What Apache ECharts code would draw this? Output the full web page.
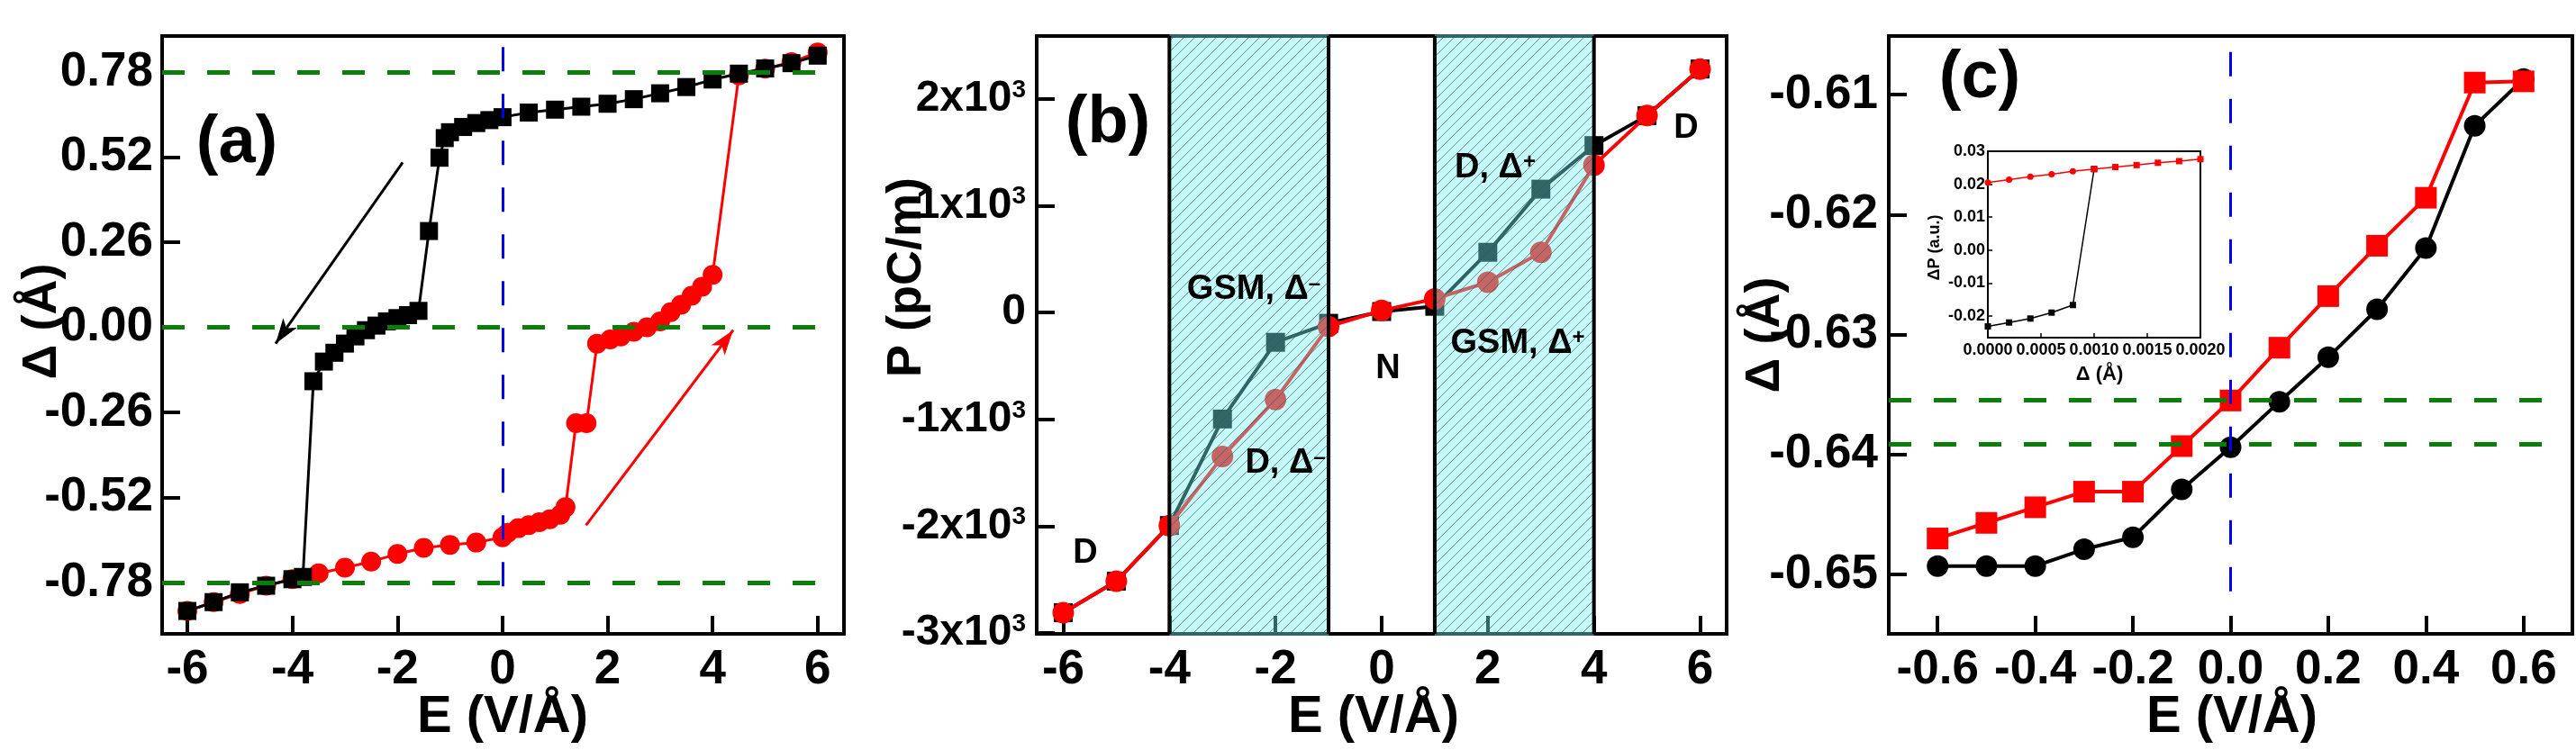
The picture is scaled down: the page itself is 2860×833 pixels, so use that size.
<!DOCTYPE html>
<html>
<head>
<meta charset="utf-8">
<script src="https://cdn.jsdelivr.net/npm/echarts@6/dist/echarts.min.js"></script>
<style>
html, body { margin: 0; padding: 0; background: #fff; }
#main { width: 2860px; height: 833px; }
</style>
</head>
<body>
<div id="main"></div>
<script>
// ---- panel (a): field sweep down (black squares) and up (red circles)
var aDownE = [6, 5.5, 5, 4.5, 4, 3.5, 3, 2.5, 2, 1.5, 1, 0.5, 0, -0.25, -0.5, -0.75, -1, -1.1, -1.2, -1.4, -1.6, -1.8, -2, -2.2, -2.4, -2.6, -2.8, -3, -3.2, -3.4, -3.6, -3.8, -4, -4.5, -5, -5.5, -6];
var aDownD = [0.83, 0.807, 0.791, 0.775, 0.757, 0.734, 0.715, 0.697, 0.683, 0.674, 0.665, 0.656, 0.642, 0.633, 0.624, 0.612, 0.596, 0.578, 0.518, 0.294, 0.05, 0.037, 0.028, 0.018, 0.005, -0.009, -0.028, -0.05, -0.078, -0.105, -0.165, -0.763, -0.77, -0.79, -0.81, -0.84, -0.867];
var aUpE = [-6, -5.5, -5, -4.5, -4, -3.5, -3, -2.5, -2, -1.5, -1, -0.5, 0, 0.1, 0.3, 0.5, 0.7, 0.9, 1.1, 1.2, 1.4, 1.6, 1.8, 2.05, 2.25, 2.5, 2.75, 3, 3.2, 3.4, 3.6, 3.8, 4, 4.5, 5, 5.5, 6];
var aUpD = [-0.867, -0.84, -0.815, -0.79, -0.77, -0.752, -0.735, -0.716, -0.693, -0.674, -0.665, -0.658, -0.642, -0.628, -0.614, -0.605, -0.596, -0.587, -0.573, -0.55, -0.293, -0.293, -0.05, -0.037, -0.028, -0.014, 0, 0.018, 0.046, 0.069, 0.096, 0.124, 0.16, 0.77, 0.79, 0.81, 0.84];
var aXTicks = [-6, -4, -2, 0, 2, 4, 6];
var aYTicks = [-0.78, -0.52, -0.26, 0, 0.26, 0.52, 0.78];
var aLevels = [0.78, 0, -0.78];
// arrows: [E0, D0, E1, D1]
var aArrowDown = [-1.9, 0.504, -4.32, -0.05];
var aArrowUp = [1.59, -0.605, 4.39, -0.009];

// ---- panel (b): polarization
var bE = [-6, -5, -4, -3, -2, -1, 0, 1, 2, 3, 4, 5, 6];
var bSquare = [-2810, -2515, -1994, -996, -278, -100, 10, 59, 565, 1156, 1564, 1845, 2281];
var bCircle = [-2810, -2515, -1994, -1348, -813, -130, 20, 129, 284, 565, 1381, 1845, 2281];
var bRegions = [[-4, -1], [1, 4]];
var bXTicks = [-6, -4, -2, 0, 2, 4, 6];
var bYTicks = [-3000, -2000, -1000, 0, 1000, 2000];

// ---- panel (c): small field
var cE = [-0.6, -0.5, -0.4, -0.3, -0.2, -0.1, 0, 0.1, 0.2, 0.3, 0.4, 0.5, 0.6];
var cCircle = [-0.6493, -0.6493, -0.6493, -0.6479, -0.6469, -0.6429, -0.6394, -0.6356, -0.6319, -0.6279, -0.6228, -0.6126, -0.6087];
var cSquare = [-0.6470, -0.6457, -0.6444, -0.6431, -0.6431, -0.6393, -0.6355, -0.6311, -0.6268, -0.6226, -0.6186, -0.6090, -0.6089];
var cXTicks = [-0.6, -0.4, -0.2, 0, 0.2, 0.4, 0.6];
var cYTicks = [-0.65, -0.64, -0.63, -0.62, -0.61];
var cLevels = [-0.63543, -0.6391];

// ---- inset of (c)
var insX = [0, 0.0002, 0.0004, 0.0006, 0.0008, 0.001, 0.0012, 0.0014, 0.0016, 0.0018, 0.002];
var insRed = [0.0205, 0.0214, 0.0223, 0.023, 0.0239, 0.0246, 0.0252, 0.0258, 0.0265, 0.027, 0.0276];
var insBlack = [-0.0232, -0.022, -0.0208, -0.019, -0.0167, 0.0246];
var insXTicks = [0, 0.0005, 0.001, 0.0015, 0.002];
var insYTicks = [-0.02, -0.01, 0, 0.01, 0.02, 0.03];

var NARROW = "'Liberation Sans Narrow','Arial Narrow',sans-serif";
var WIDE = "'Liberation Sans',Arial,sans-serif";
var GREEN = '#0b7d0b', BLUE = '#0000ee', RED = '#ff0000';

function zip(xs, ys) {
  return ys.map(function (y, i) { return [xs[i], y]; });
}

function axis(grid, min, max, ticks, fmt, fs, margin, tickLen, lw) {
  return {
    type: 'value', gridIndex: grid, min: min, max: max,
    splitLine: { show: false },
    axisLine: { show: true, onZero: false, lineStyle: { color: '#000', width: lw } },
    axisTick: { show: true, inside: true, length: tickLen, customValues: ticks, lineStyle: { color: '#000', width: lw } },
    axisLabel: { show: true, customValues: ticks, formatter: fmt, margin: margin, color: '#000',
      fontFamily: NARROW, fontWeight: 'bold', fontSize: fs }
  };
}

function hLine(y, x0, x1, color, width, dash) {
  return [{ coord: [x0, y], symbol: 'none', lineStyle: { color: color, width: width, type: dash } },
          { coord: [x1, y], symbol: 'none' }];
}
function vLine(x, y0, y1, color, width, dash) {
  return [{ coord: [x, y0], symbol: 'none', lineStyle: { color: color, width: width, type: dash } },
          { coord: [x, y1], symbol: 'none' }];
}
function arrow(a, color) {
  return [{ coord: [a[0], a[1]], symbol: 'none', lineStyle: { color: color, width: 3, type: 'solid' } },
          { coord: [a[2], a[3]], symbol: 'arrow', symbolSize: [14, 28] }];
}

// hatched cyan tile for the shaded field windows of (b)
var tile = document.createElement('canvas');
tile.width = 12; tile.height = 12;
var g = tile.getContext('2d');
g.fillStyle = 'rgba(120,240,240,0.42)';
g.fillRect(0, 0, 12, 12);
g.strokeStyle = 'rgba(40,90,90,0.6)';
g.lineWidth = 1;
g.beginPath();
g.moveTo(-1, 13); g.lineTo(13, -1);
g.moveTo(-7, 7); g.lineTo(7, -7);
g.moveTo(5, 19); g.lineTo(19, 5);
g.stroke();

var dom = document.getElementById('main');
var myChart = echarts.init(dom);

var f2 = function (v) { return v.toFixed(2); };
var f1 = function (v) { return v.toFixed(1); };
var fInt = function (v) { return String(v); };
var fPow = function (v) {
  if (v === 0) return '{m|0}';
  return '{m|' + (v / 1000) + 'x10}{s|3}';
};

var yB = axis(1, -3008, 2590, bYTicks, fPow, 48, 12, 20, 4);
yB.axisLabel.rich = {
  m: { fontFamily: NARROW, fontWeight: 'bold', fontSize: 48, color: '#000' },
  s: { fontFamily: NARROW, fontWeight: 'bold', fontSize: 28, color: '#000', verticalAlign: 'top' }
};

var option = {
  backgroundColor: '#fff',
  animation: false,
  grid: [
    { left: 180, top: 40, width: 757, height: 664, show: true, borderColor: '#000', borderWidth: 4 },
    { left: 1151, top: 40, width: 766, height: 664, show: true, borderColor: '#000', borderWidth: 4 },
    { left: 2097, top: 40, width: 759, height: 664, show: true, borderColor: '#000', borderWidth: 4 },
    { left: 2207, top: 168, width: 236, height: 207, show: true, borderColor: '#000', borderWidth: 2, backgroundColor: '#fff', z: 5 }
  ],
  xAxis: [
    axis(0, -6.48, 6.5, aXTicks, fInt, 53, 14, 20, 4),
    axis(1, -6.5, 6.5, bXTicks, fInt, 53, 14, 20, 4),
    axis(2, -0.7, 0.7, cXTicks, f1, 53, 14, 20, 4),
    Object.assign(axis(3, 0, 0.002, insXTicks, function (v) { return v.toFixed(4); }, 18, 5, 5, 1.5), { z: 6 })
  ],
  yAxis: [
    axis(0, -0.937, 0.89, aYTicks, f2, 53, 10, 20, 4),
    yB,
    axis(2, -0.65495, -0.60512, cYTicks, f2, 53, 12, 20, 4),
    Object.assign(axis(3, -0.0266, 0.03, insYTicks, f2, 18, 3, 5, 1.5), { z: 6 })
  ],
  series: [
    // (a) reference lines and arrows
    {
      type: 'line', xAxisIndex: 0, yAxisIndex: 0, data: [], z: 1, silent: true,
      markLine: {
        silent: true, animation: false, symbol: ['none', 'none'], label: { show: false },
        data: aLevels.map(function (y) { return hLine(y, -6.48, 6.07, GREEN, 5, [25, 25]); })
          .concat([vLine(0, -0.792, 0.889, BLUE, 3, [27, 25]),
                   arrow(aArrowDown, '#000'), arrow(aArrowUp, RED)])
      }
    },
    {
      type: 'line', xAxisIndex: 0, yAxisIndex: 0, z: 3, data: zip(aUpE, aUpD),
      symbol: 'circle', symbolSize: 22, itemStyle: { color: RED }, lineStyle: { color: RED, width: 3 }
    },
    {
      type: 'line', xAxisIndex: 0, yAxisIndex: 0, z: 4, data: zip(aDownE, aDownD),
      symbol: 'rect', symbolSize: 20, itemStyle: { color: '#000' }, lineStyle: { color: '#000', width: 3 }
    },
    // (b)
    {
      type: 'line', xAxisIndex: 1, yAxisIndex: 1, z: 3, data: zip(bE, bSquare),
      symbol: 'rect', symbolSize: 21, itemStyle: { color: '#000' }, lineStyle: { color: '#000', width: 4 }
    },
    {
      type: 'line', xAxisIndex: 1, yAxisIndex: 1, z: 4, data: zip(bE, bCircle),
      symbol: 'circle', symbolSize: 24, itemStyle: { color: RED }, lineStyle: { color: RED, width: 4 }
    },
    {
      type: 'custom', xAxisIndex: 1, yAxisIndex: 1, z: 10, silent: true,
      data: bRegions, encode: { x: [0, 1] },
      renderItem: function (params, api) {
        var cs = params.coordSys;
        var x0 = api.coord([api.value(0), 0])[0];
        var x1 = api.coord([api.value(1), 0])[0];
        return {
          type: 'group',
          children: [
            { type: 'rect', shape: { x: x0, y: cs.y - 2, width: x1 - x0, height: cs.height + 4 },
              style: { fill: { image: tile, repeat: 'repeat' } } },
            { type: 'line', shape: { x1: x0, y1: cs.y, x2: x0, y2: cs.y + cs.height }, style: { stroke: '#000', lineWidth: 4 } },
            { type: 'line', shape: { x1: x1, y1: cs.y, x2: x1, y2: cs.y + cs.height }, style: { stroke: '#000', lineWidth: 4 } }
          ]
        };
      }
    },
    // (c)
    {
      type: 'line', xAxisIndex: 2, yAxisIndex: 2, data: [], z: 1, silent: true,
      markLine: {
        silent: true, animation: false, symbol: ['none', 'none'], label: { show: false },
        data: cLevels.map(function (y) { return hLine(y, -0.7, 0.65, GREEN, 5, [25, 25]); })
          .concat([vLine(0, -0.6514, -0.6052, BLUE, 3, [27, 25])])
      }
    },
    {
      type: 'line', xAxisIndex: 2, yAxisIndex: 2, z: 3, data: zip(cE, cCircle),
      symbol: 'circle', symbolSize: 24, itemStyle: { color: '#000' }, lineStyle: { color: '#000', width: 4 }
    },
    {
      type: 'line', xAxisIndex: 2, yAxisIndex: 2, z: 4, data: zip(cE, cSquare),
      symbol: 'rect', symbolSize: 24, itemStyle: { color: RED }, lineStyle: { color: RED, width: 4 }
    },
    // inset
    {
      type: 'line', xAxisIndex: 3, yAxisIndex: 3, z: 7, data: zip(insX, insBlack),
      symbol: 'rect', symbolSize: 7, itemStyle: { color: '#000' }, lineStyle: { color: '#000', width: 1.5 }
    },
    {
      type: 'line', xAxisIndex: 3, yAxisIndex: 3, z: 8,
      data: zip(insX, insRed).map(function (p, i) {
        return { value: p, symbol: p[0] < 0.00095 ? 'circle' : 'rect' };
      }),
      symbolSize: 7, itemStyle: { color: RED }, lineStyle: { color: RED, width: 1.5 }
    }
  ],
  graphic: [
    txt('(a)', 263, 160, 74, NARROW),
    txt('(b)', 1230, 138, 74, NARROW),
    txt('(c)', 2198, 88, 74, NARROW),
    txt('E (V/Å)', 558, 797, 58, NARROW),
    txt('E (V/Å)', 1525, 797, 58, NARROW),
    txt('E (V/Å)', 2478, 797, 58, NARROW),
    rot('Δ (Å)', 47, 357, 54),
    rot('P (pC/m)', 1007, 308, 54),
    rot('Δ (Å)', 1960, 372, 54),
    rot('ΔP (a.u.)', 2148, 275, 18),
    txt('Δ (Å)', 2331, 416, 22, WIDE),
    note('D, Δ{s|+}', 1660, 187),
    note('GSM, Δ{s|+}', 1685, 382),
    note('GSM, Δ{s|\u2013}', 1392, 322),
    note('N', 1541, 410),
    note('D, Δ{s|\u2013}', 1427, 515),
    note('D', 1205, 615),
    note('D', 1872, 143)
  ]
};

function txt(s, x, y, fs, fam) {
  return { type: 'text', x: x, y: y, z: 20,
    style: { text: s, fill: '#000', font: 'bold ' + fs + 'px ' + fam,
      align: 'center', verticalAlign: 'middle', textAlign: 'center', textVerticalAlign: 'middle' } };
}
function rot(s, x, y, fs) {
  var t = txt(s, x, y, fs, WIDE);
  t.rotation = Math.PI / 2;
  return t;
}
function note(s, x, y) {
  return { type: 'text', x: x, y: y, z: 20,
    style: { text: s, fill: '#000', fontFamily: NARROW, fontWeight: 'bold', fontSize: 38,
      align: 'center', verticalAlign: 'middle', textAlign: 'center', textVerticalAlign: 'middle',
      rich: { s: { fontFamily: NARROW, fontWeight: 'bold', fontSize: 24, fill: '#000', verticalAlign: 'top' } } } };
}

myChart.setOption(option);
window.onresize = myChart.resize;
</script>
</body>
</html>
